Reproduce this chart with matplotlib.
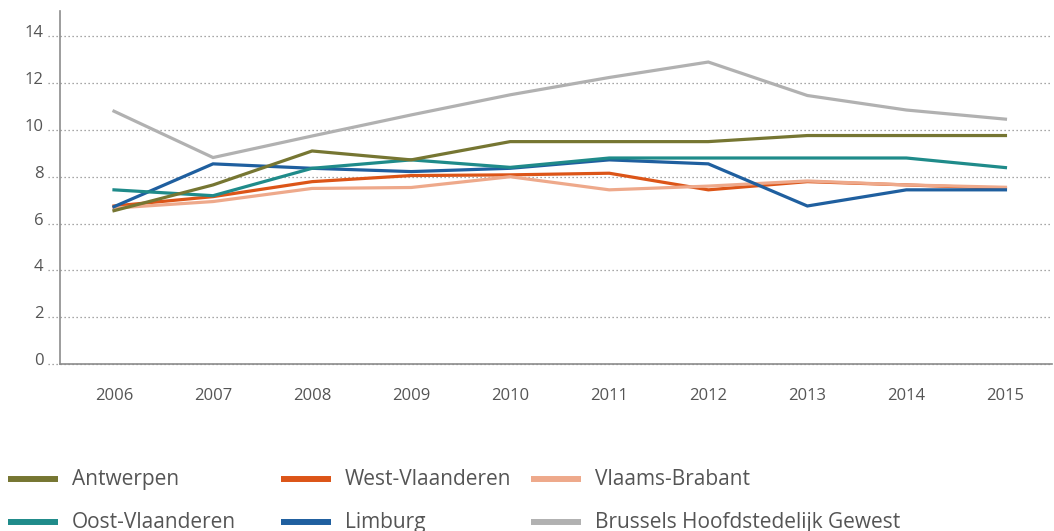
import matplotlib
matplotlib.use("Agg")
import matplotlib.pyplot as plt
from matplotlib.lines import Line2D
import matplotlib.transforms as mtransforms

# ---- data ----
years = ["2006", "2007", "2008", "2009", "2010", "2011", "2012", "2013", "2014", "2015"]
antwerpen = [6.55, 7.65, 9.1, 8.72, 9.5, 9.5, 9.5, 9.76, 9.76, 9.76]
west_vlaanderen = [6.75, 7.15, 7.79, 8.05, 8.08, 8.15, 7.44, 7.79, 7.65, 7.5]
vlaams_brabant = [6.66, 6.94, 7.5, 7.54, 8.0, 7.44, 7.6, 7.82, 7.65, 7.55]
oost_vlaanderen = [7.44, 7.19, 8.36, 8.72, 8.4, 8.8, 8.8, 8.8, 8.8, 8.39]
limburg = [6.72, 8.55, 8.36, 8.22, 8.36, 8.72, 8.55, 6.75, 7.44, 7.44]
brussel = [10.8, 8.82, 9.74, 10.64, 11.5, 12.24, 12.9, 11.47, 10.85, 10.46]
y_ticks = [0, 2, 4, 6, 8, 10, 12, 14]

series_names = ["Antwerpen", "West-Vlaanderen", "Vlaams-Brabant",
                "Oost-Vlaanderen", "Limburg", "Brussels Hoofdstedelijk Gewest"]
series_values = [antwerpen, west_vlaanderen, vlaams_brabant,
                 oost_vlaanderen, limburg, brussel]
colors = ["#767632", "#dc5518", "#eea98b", "#1f8b8a", "#1f5f9f", "#b1b1b1"]
zorders = [6, 3, 4, 5, 4.5, 7]

plt.rcParams['font.family'] = ['Open Sans', 'DejaVu Sans']

W, H = 1054, 531
fig = plt.figure(figsize=(W / 100, H / 100), dpi=100)
ax_left, ax_right, ax_top, ax_bottom = 60, 1052, 11, 364
ax = fig.add_axes([ax_left / W, 1 - ax_bottom / H,
                   (ax_right - ax_left) / W, (ax_bottom - ax_top) / H])

x = list(range(len(years)))
for vals, c, z in zip(series_values, colors, zorders):
    ax.plot(x, vals, color=c, lw=2.3, zorder=z, solid_joinstyle='miter')

ax.set_xlim(-0.545, 9.47)
ax.set_ylim(0, 15.08)

# dotted gridlines extending slightly left of the y axis
trans = mtransforms.blended_transform_factory(ax.transAxes, ax.transData)
gx0 = (48 - ax_left) / (ax_right - ax_left)
for yt in y_ticks:
    ax.plot([gx0, 1.0], [yt, yt], transform=trans, color="#8a8a8a",
            lw=0.9, linestyle=(0, (1, 2.2)), clip_on=False, zorder=1)

ax.set_xticks(x)
ax.set_xticklabels(years)
ax.set_yticks(y_ticks)
ax.set_yticklabels([str(v) for v in y_ticks])
ax.tick_params(axis='x', length=0, pad=17, labelsize=12, labelcolor="#555555")
ax.tick_params(axis='y', length=0, pad=12, labelsize=12, labelcolor="#555555")
off = mtransforms.ScaledTranslation(0, 5 / 100, fig.dpi_scale_trans)
for lab in ax.get_yticklabels():
    lab.set_transform(lab.get_transform() + off)

for s in ["top", "right"]:
    ax.spines[s].set_visible(False)
for s in ["left", "bottom"]:
    ax.spines[s].set_color("#8c8c8c")
    ax.spines[s].set_linewidth(1.2)
    ax.spines[s].set_zorder(8)

# legend (manual, 3 columns x 2 rows)
col_x = [8, 281, 531]
row_base = [485, 528]
for i, (name, c) in enumerate(zip(series_names, colors)):
    r, cidx = divmod(i, 3)
    hx = col_x[cidx]
    hy = row_base[r] - 6.5
    fig.add_artist(Line2D([hx / W, (hx + 50) / W], [1 - hy / H, 1 - hy / H],
                          transform=fig.transFigure, color=c, lw=4.3,
                          solid_capstyle='butt'))
    fig.text((hx + 64) / W, 1 - row_base[r] / H, name, fontsize=15,
             color="#555555", va='baseline', ha='left')

fig.savefig("out.png", dpi=100)
